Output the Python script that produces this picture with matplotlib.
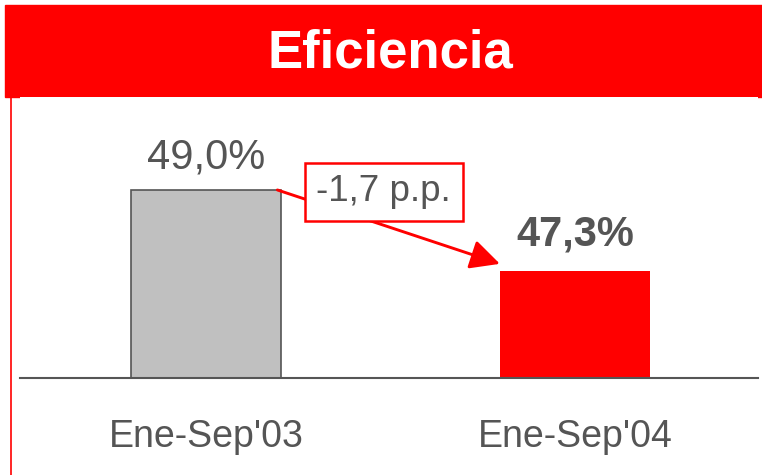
import matplotlib.pyplot as plt
from matplotlib.patches import Rectangle
from matplotlib.lines import Line2D

plt.rcParams['font.family'] = ['Liberation Sans', 'DejaVu Sans']

periods = ["Ene-Sep'03", "Ene-Sep'04"]
values = [49.0, 47.3]
value_labels = ["49,0%", "47,3%"]
delta_label = "-1,7 p.p."
title = "Eficiencia"

red = "#FF0000"
grey_txt = "#555555"
bar_colors = ["#C0C0C0", red]
bar_edges = ["#555555", red]

fig = plt.figure(figsize=(7.62, 4.75), dpi=100)

# red header band + thin red line on the left
fig.add_artist(Rectangle((5 / 762, 1 - 97 / 475), 757 / 762, 92 / 475,
                         transform=fig.transFigure, color=red, zorder=0))
fig.text(0.512, 1 - 68 / 475, title, color="white", fontsize=38,
         fontweight="bold", ha="center", va="baseline")
fig.add_artist(Line2D([10.5 / 762] * 2, [0, 1 - 97 / 475],
                      transform=fig.transFigure, color=red, lw=1.2))

ax = fig.add_axes([20 / 762, 97 / 475, 738 / 762, 281 / 475])
width = 0.407
x = list(range(len(values)))
ax.bar(x, values, width=width, color=bar_colors, edgecolor=bar_edges,
       linewidth=[1.2, 0], zorder=2)
ax.set_xlim(-0.504, 1.496)
ax.set_ylim(45.055, 50.95)

for s in ["top", "right", "left"]:
    ax.spines[s].set_visible(False)
ax.spines["bottom"].set_color("#555555")
ax.spines["bottom"].set_linewidth(1.5)
ax.spines["bottom"].set_zorder(3)
ax.set_xticks([])
ax.set_yticks([])

for xi, lab in zip(x, periods):
    ax.text(xi, -69 / 281, lab, transform=ax.get_xaxis_transform(),
            ha="center", va="baseline", fontsize=27, color=grey_txt)

ax.annotate(value_labels[0], (x[0], values[0]), xytext=(0, 15.8),
            textcoords="offset points", ha="center", va="baseline",
            fontsize=30, color=grey_txt)
ax.annotate(value_labels[1], (x[1], values[1]), xytext=(0, 18.7),
            textcoords="offset points", ha="center", va="baseline",
            fontsize=30, color=grey_txt, fontweight="bold")

# arrow from bar to bar, box on top
ax.annotate("", xy=(x[1] - width / 2, values[1] + 0.15),
            xytext=(x[0] + width / 2 - 0.01, values[0]),
            arrowprops=dict(arrowstyle="-|>,head_length=0.9,head_width=0.45",
                            mutation_scale=20, color=red, lw=2.1,
                            shrinkA=0, shrinkB=0), zorder=4)
ax.text(0.482, 48.96, delta_label, ha="center", va="center", fontsize=26.5,
        color=grey_txt, zorder=5,
        bbox=dict(boxstyle="square,pad=0.32", fc="white", ec=red, lw=1.8))

fig.savefig("out.png", dpi=100)
